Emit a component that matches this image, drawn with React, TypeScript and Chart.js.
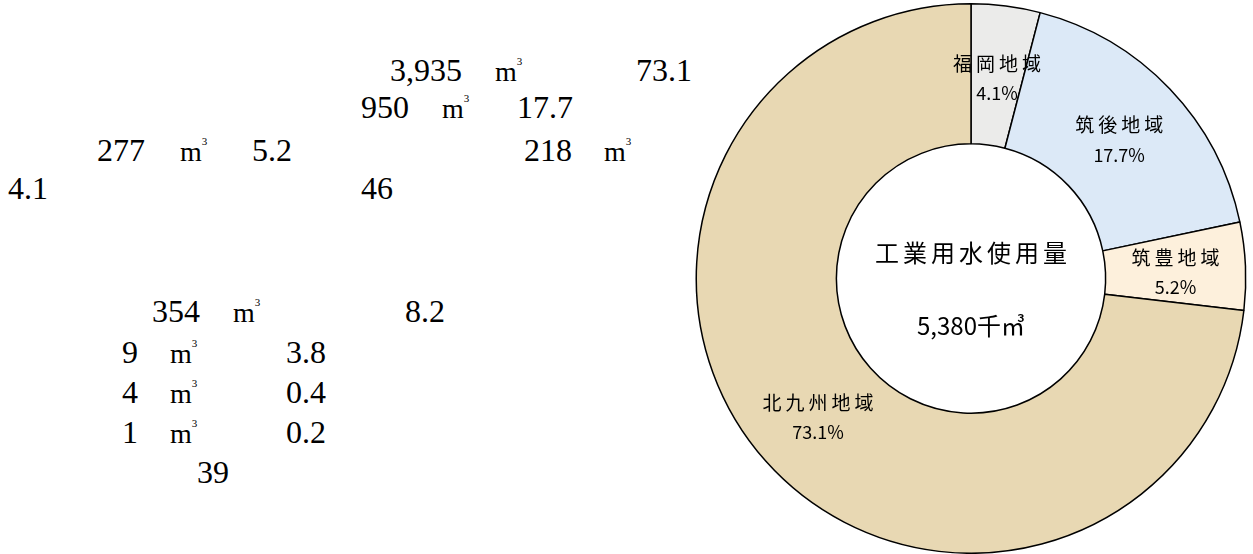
import React, { useEffect, useRef } from "react";
import { Chart, registerables } from "chart.js";

Chart.register(...registerables);

// ---- chart data ----
const regions = ["福岡地域", "筑後地域", "筑豊地域", "北九州地域"];
const usage = [218, 950, 277, 3935]; // 千㎥
const shares = [4.1, 17.7, 5.2, 73.1]; // %
const regionColors = ["#ebebea", "#dce9f7", "#fdf0dc", "#e8d8b3"];
const centerTitle = "工業用水使用量";
const centerTotal = "5,380千㎥";

// ---- left-hand text fragments (as they appear) ----
const noteTexts = [
  "3,935", "m", "73.1",
  "950", "m", "17.7",
  "277", "m", "5.2", "218", "m",
  "4.1", "46",
  "354", "m", "8.2",
  "9", "m", "3.8",
  "4", "m", "0.4",
  "1", "m", "0.2",
  "39",
];
// layout (left, top) for each fragment
const noteLayout: [number, number][] = [
  [390, 54], [495, 54], [636, 54],
  [361, 91], [442, 91], [517, 91],
  [97, 134], [180, 134], [252, 134], [524, 134], [604, 134],
  [8, 172], [361, 172],
  [152, 295], [233, 295], [405, 295],
  [122, 336], [170, 336], [286, 336],
  [122, 376], [170, 376], [286, 376],
  [122, 416], [170, 416], [286, 416],
  [197, 456],
];

const FONT = '"Noto Sans CJK JP", "Noto Sans", sans-serif';

const labelPlugin = {
  id: "arcLabels",
  afterDatasetsDraw(chart: any) {
    const ctx: CanvasRenderingContext2D = chart.ctx;
    const meta = chart.getDatasetMeta(0);
    ctx.save();
    ctx.fillStyle = "#000";
    ctx.textAlign = "center";
    ctx.textBaseline = "middle";
    meta.data.forEach((arc: any, i: number) => {
      const p = arc.tooltipPosition(false);
      ctx.font = `19px ${FONT}`;
      (ctx as any).letterSpacing = "4px";
      ctx.fillText(regions[i], p.x + 2, p.y - 12);
      (ctx as any).letterSpacing = "0px";
      ctx.font = `18px ${FONT}`;
      ctx.fillText(shares[i].toFixed(1) + "%", p.x, p.y + 18);
    });
    const a = meta.data[0];
    ctx.font = `24px ${FONT}`;
    (ctx as any).letterSpacing = "4px";
    ctx.fillText(centerTitle, a.x + 2, a.y - 26);
    (ctx as any).letterSpacing = "0px";
    ctx.font = `24px ${FONT}`;
    ctx.fillText(centerTotal, a.x, a.y + 47);
    ctx.restore();
  },
};

function ChartCanvas() {
  const ref = useRef<HTMLCanvasElement | null>(null);
  useEffect(() => {
    if (!ref.current) return;
    const chart = new Chart(ref.current, {
      type: "doughnut",
      data: {
        labels: regions,
        datasets: [
          {
            data: usage,
            backgroundColor: regionColors,
            borderColor: "#000",
            borderWidth: 1.5,
          },
        ],
      },
      options: {
        responsive: false,
        animation: false,
        devicePixelRatio: 1,
        events: [],
        cutout: "49%",
        layout: { padding: { top: 3, bottom: 0, left: 0, right: 0 } },
        plugins: {
          legend: { display: false },
          tooltip: { enabled: false },
          title: { display: false },
        },
      },
      plugins: [labelPlugin],
    });
    return () => chart.destroy();
  }, []);
  return (
    <canvas
      ref={ref}
      width={554}
      height={554}
      style={{ position: "absolute", left: 694, top: 0, width: 554, height: 554, display: "block" }}
    />
  );
}

export default function App() {
  return (
    <div style={{ position: "absolute", left: 0, top: 0, width: 1253, height: 554, background: "#fff", overflow: "hidden" }}>
      {noteTexts.map((t, i) => {
        const [x, y] = noteLayout[i];
        const isUnit = t === "m";
        return (
          <div
            key={i}
            style={{
              position: "absolute",
              left: x,
              top: y,
              fontFamily: '"Liberation Serif", serif',
              fontSize: 32,
              lineHeight: "32px",
              color: "#000",
              whiteSpace: "nowrap",
            }}
          >
            {isUnit ? (
              <span style={{ fontSize: 28 }}>
                m<span style={{ fontSize: 11, position: "relative", top: -16 }}>3</span>
              </span>
            ) : (
              t
            )}
          </div>
        );
      })}
      <ChartCanvas />
    </div>
  );
}
